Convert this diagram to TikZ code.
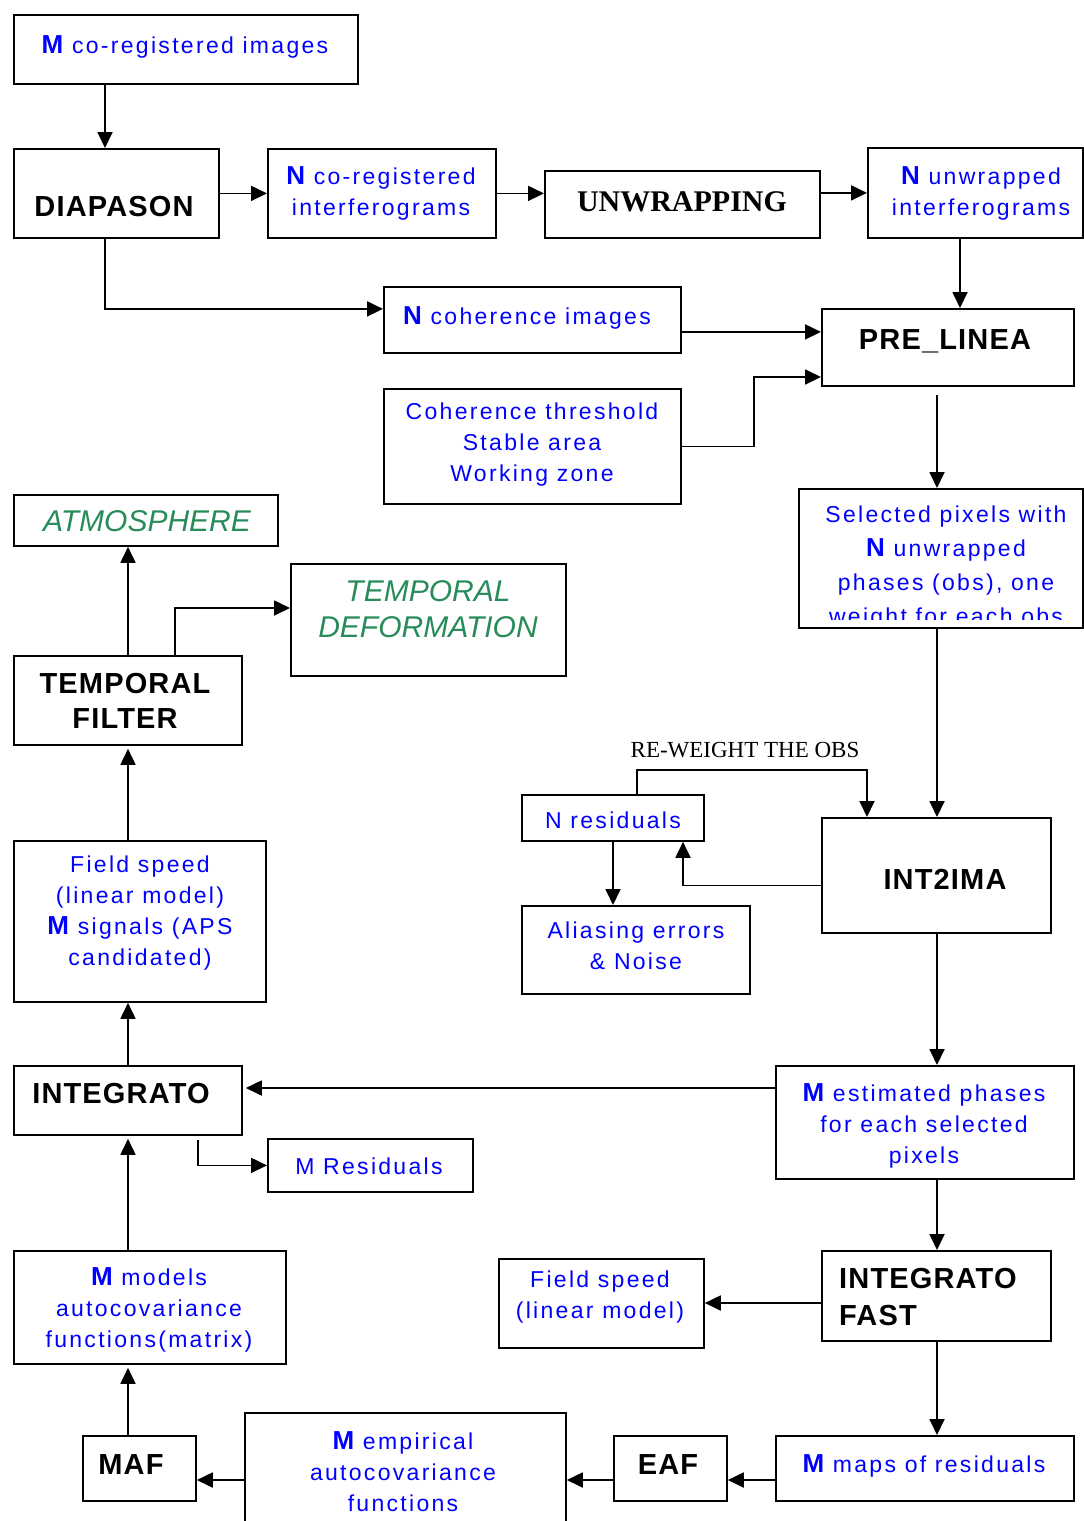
\documentclass[tikz,border=0pt]{standalone}
\usepackage{fontspec}
\setmainfont{Liberation Sans}
\newfontfamily\pix[LetterSpace=10]{Liberation Sans}
\newfontfamily\pixb[LetterSpace=4]{Liberation Sans}
\newfontfamily\serifr{Liberation Serif}
\usetikzlibrary{arrows.meta}
\definecolor{pblue}{RGB}{0,0,255}
\definecolor{pgreen}{RGB}{40,140,90}
\newcommand\bigL[1]{{\fontsize{26}{31}\selectfont\bfseries #1}}
\begin{document}
\begin{tikzpicture}[x=1pt,y=-1pt,
  box/.style={draw, line width=1.8pt, inner sep=0pt, anchor=north west, rectangle},
  bt/.style={font={\pix\fontsize{23}{31}\selectfont}, text=pblue, align=center, inner sep=0pt},
  kt/.style={font={\pixb\bfseries\fontsize{29}{35}\selectfont}, align=center, inner sep=0pt},
  kl/.style={font={\pixb\bfseries\fontsize{29}{36}\selectfont}, align=left, inner sep=0pt},
  gt/.style={font={\itshape\fontsize{30}{36}\selectfont}, text=pgreen, align=center, inner sep=0pt},
  st/.style={font={\serifr\bfseries\fontsize{30}{36}\selectfont}, inner sep=0pt},
  sr/.style={font={\serifr\fontsize{23}{28}\selectfont}, inner sep=0pt},
  arr/.style={line width=1.8pt, -{Triangle[length=16pt,width=15pt]}}]
\useasboundingbox (0,0) rectangle (1084,1521);
\fill[white] (0,0) rectangle (1084,1521);

% boxes
\node[box, minimum width=344pt, minimum height=69pt] (mimg) at (13,14) {};
\node[box, minimum width=205pt, minimum height=89pt] (diap) at (13,148) {};
\node[box, minimum width=228pt, minimum height=89pt] (nco) at (267,148) {};
\node[box, minimum width=275pt, minimum height=67pt] (unw) at (544,170) {};
\node[box, minimum width=215pt, minimum height=90pt] (nunw) at (867,147) {};
\node[box, minimum width=297pt, minimum height=66pt] (ncoh) at (383,286) {};
\node[box, minimum width=252pt, minimum height=77pt] (pre) at (821,308) {};
\node[box, minimum width=297pt, minimum height=115pt] (cth) at (383,388) {};
\begin{scope}
\clip (799,489) rectangle (1081,619);
\node[bt, font={\pix\fontsize{23}{34}\selectfont}] (selt) at (946,568) {Selected pixels with\\\bigL{N} unwrapped\\phases (obs), one\\weight for each obs};
\end{scope}
\node[box, minimum width=284pt, minimum height=139pt] (sel) at (798,488) {};
\node[box, minimum width=264pt, minimum height=51pt] (atm) at (13,494) {};
\node[box, minimum width=275pt, minimum height=112pt] (tdef) at (290,563) {};
\node[box, minimum width=228pt, minimum height=89pt] (tfil) at (13,655) {};
\node[box, minimum width=252pt, minimum height=161pt] (fsp) at (13,840) {};
\node[box, minimum width=182pt, minimum height=46pt] (nres) at (521,794) {};
\node[box, minimum width=228pt, minimum height=88pt] (alias) at (521,905) {};
\node[box, minimum width=229pt, minimum height=115pt] (int2) at (821,817) {};
\node[box, minimum width=228pt, minimum height=69pt] (integ) at (13,1065) {};
\node[box, minimum width=298pt, minimum height=113pt] (mest) at (775,1065) {};
\node[box, minimum width=205pt, minimum height=53pt] (mres) at (267,1138) {};
\node[box, minimum width=272pt, minimum height=113pt] (mmod) at (13,1250) {};
\node[box, minimum width=205pt, minimum height=89pt] (fsp2) at (498,1258) {};
\node[box, minimum width=229pt, minimum height=90pt] (ifast) at (821,1250) {};
\node[box, minimum width=113pt, minimum height=65pt] (maf) at (82,1435) {};
\node[box, minimum width=321pt, minimum height=128pt] (memp) at (244,1412) {};
\node[box, minimum width=113pt, minimum height=65pt] (eaf) at (613,1435) {};
\node[box, minimum width=298pt, minimum height=65pt] (mmaps) at (775,1435) {};

% texts
\node[bt] (mimgt) at (185,47) {\bigL{M} co-registered images};
\node[kt] (diapt) at (114,207) {DIAPASON};
\node[bt] (ncot) at (381,193) {\bigL{N} co-registered\\interferograms};
\node[st] (unwt) at (682,202) {UNWRAPPING};
\node[bt] (nunwt) at (981,193) {\bigL{N} unwrapped\\interferograms};
\node[bt] (ncoht) at (527,318) {\bigL{N} coherence images};
\node[kt] (pret) at (945,341) {PRE\_LINEA};
\node[bt] (ctht) at (532,445) {Coherence threshold\\Stable area\\Working zone};
\node[gt] (atmt) at (147,521) {ATMOSPHERE};
\node[gt] (tdeft) at (428,609) {TEMPORAL\\DEFORMATION};
\node[kt] (tfilt) at (125,701) {TEMPORAL\\FILTER};
\node[bt] (fspt) at (140,913) {Field speed\\(linear model)\\\bigL{M} signals (APS\\candidated)};
\node[bt] (nrest) at (613,820) {N residuals};
\node[bt] (aliast) at (636,946) {Aliasing errors\\\& Noise};
\node[kt] (int2t) at (945,879) {INT2IMA};
\node[sr] (rwl) at (745,750) {RE-WEIGHT THE OBS};
\node[kt] (integt) at (121,1094) {INTEGRATO};
\node[bt] (mestt) at (924,1126) {\bigL{M} estimated phases\\for each selected\\pixels};
\node[bt] (mrest) at (369,1166) {M Residuals};
\node[bt] (mmodt) at (149,1310) {\bigL{M} models\\autocovariance\\functions(matrix)};
\node[bt] (fsp2t) at (600,1297) {Field speed\\(linear model)};
\node[kl, anchor=west] (ifastt) at (839,1297) {INTEGRATO\\FAST};
\node[kt] (maft) at (131,1465) {MAF};
\node[bt] (mempt) at (403,1472) {\bigL{M} empirical\\autocovariance\\functions};
\node[kt] (eaft) at (668,1465) {EAF};
\node[bt] (mmapst) at (924,1466) {\bigL{M} maps of residuals};

% connectors
\draw[arr] ([xshift=92pt]mimg.south west) -- ([xshift=92pt]diap.north west);
\draw[arr] (diap.east) -- (nco.west);
\draw[arr] (nco.east) -- (nco.east -| unw.west);
\draw[arr] (nunw.west -| unw.east) -- (nunw.west);
\draw[arr] ([xshift=92pt]diap.south west) |- ([yshift=11pt]ncoh.west);
\draw[arr] ([yshift=-12pt]ncoh.east) -- ([yshift=-12pt]ncoh.east -| pre.west);
\draw[arr] ([xshift=93pt]nunw.south west) -- ([xshift=139pt]pre.north west);
\draw[arr] (cth.east) -- ++(72,0) |- ([yshift=-69pt]pre.north west);
\draw[arr, shorten <=8pt] ([xshift=116pt]pre.south west) -- ([xshift=139pt]sel.north west);
\draw[arr] ([xshift=139pt]sel.south west) -- ([xshift=116pt]int2.north west);
\draw[arr] ([xshift=116pt]nres.north west) -- ++(0,-24) -| ([xshift=46pt]int2.north west);
\draw[arr] ([yshift=-10pt]int2.west) -| ([xshift=162pt]nres.south west);
\draw[arr] ([xshift=92pt]nres.south west) -- ([xshift=92pt]alias.north west);
\draw[arr] ([xshift=116pt]int2.south west) -- ([xshift=162pt]mest.north west);
\draw[arr, shorten >=3pt] ([yshift=-23pt]mest.north west) -- ([yshift=-23pt]mest.north west -| integ.east);
\draw[arr, shorten <=4pt] ([xshift=185pt]integ.south west) |- (mres.west);
\draw[arr] ([xshift=115pt]integ.north west) -- ([xshift=115pt]fsp.south west);
\draw[arr, shorten >=3pt] ([xshift=115pt]fsp.north west) -- ([xshift=115pt]tfil.south west);
\draw[arr] ([xshift=115pt]tfil.north west) -- ([xshift=115pt]atm.south west);
\draw[arr] ([xshift=162pt]tfil.north west) |- ([yshift=-45pt]tdef.north west);
\draw[arr, shorten >=3pt] ([xshift=115pt]mmod.north west) -- ([xshift=115pt]integ.south west);
\draw[arr] ([xshift=162pt]mest.south west) -- ([xshift=116pt]ifast.north west);
\draw[arr] ([yshift=-53pt]ifast.north west) -- ([yshift=-53pt]ifast.north west -| fsp2.east);
\draw[arr] ([xshift=116pt]ifast.south west) -- ([xshift=162pt]mmaps.north west);
\draw[arr] ([yshift=-45pt]mmaps.north west) -- ([yshift=-45pt]mmaps.north west -| eaf.east);
\draw[arr] ([yshift=-45pt]eaf.north west) -- ([yshift=-45pt]eaf.north west -| memp.east);
\draw[arr] ([yshift=-45pt]eaf.north west -| memp.west) -- ([yshift=-45pt]maf.north east);
\draw[arr, shorten >=3pt] ([xshift=46pt]maf.north west) -- ([xshift=115pt]mmod.south west);
\end{tikzpicture}
\end{document}
